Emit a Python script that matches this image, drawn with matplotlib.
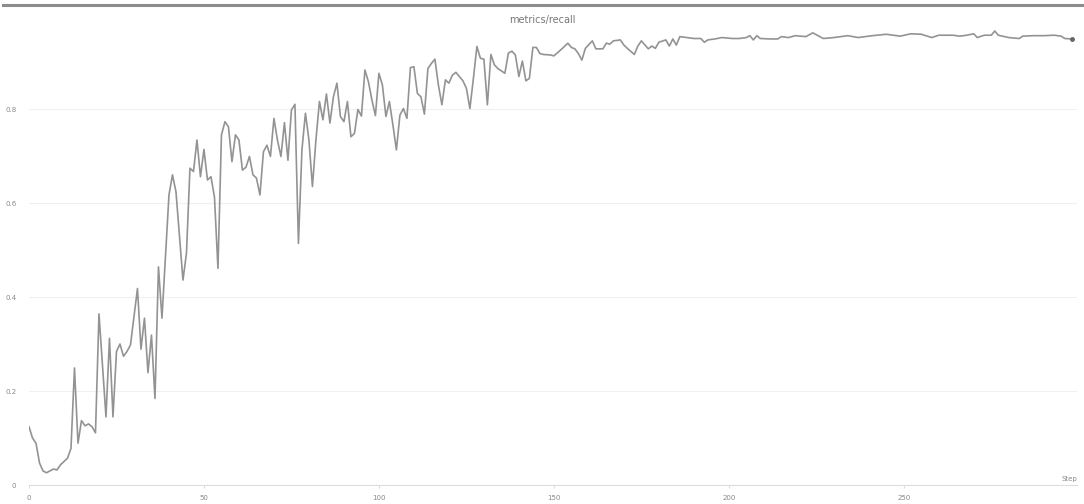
import matplotlib
matplotlib.use("Agg")
import matplotlib.pyplot as plt
from matplotlib.lines import Line2D

# values (step, recall)
steps = [0, 1, 2, 3, 4, 5, 7, 8, 9, 11, 12, 13, 14, 15, 16, 17, 18, 19, 20,
         22, 23, 24, 25, 26, 27, 28, 29, 31, 32, 33, 34, 35, 36, 37, 38, 40,
         41, 42, 44, 45, 46, 47, 48, 49, 50, 51, 52, 53, 54, 55, 56, 57, 58,
         59, 60, 61, 62, 63, 64, 65, 66, 67, 68, 69, 70, 71, 72, 73, 74, 75,
         76, 77, 78, 79, 80, 81, 82, 83, 84, 85, 86, 87, 88, 89, 90, 91, 92,
         93, 94, 95, 96, 97, 98, 99, 100, 101, 102, 103, 104, 105, 106, 107,
         108, 109, 110, 111, 112, 113, 114, 115, 116, 117, 118, 119, 120, 121,
         122, 123, 124, 125, 126, 127, 128, 129, 130, 131, 132, 133, 134, 135,
         136, 137, 138, 139, 140, 141, 142, 143, 144, 145, 146, 147, 149, 150,
         152, 154, 155, 156, 157, 158, 159, 161, 162, 164, 165, 166, 167, 169,
         170, 171, 173, 174, 175, 177, 178, 179, 180, 182, 183, 184, 185, 186,
         188, 190, 192, 193, 194, 196, 198, 201, 203, 205, 206, 207, 208, 209,
         212, 214, 215, 217, 219, 222, 224, 227, 230, 234, 237, 241, 245, 249,
         252, 255, 258, 260, 264, 266, 268, 270, 271, 273, 275, 276, 277, 280,
         283, 284, 287, 290, 293, 295, 296, 298]
recall = [0.124, 0.100, 0.089, 0.047, 0.030, 0.026, 0.034, 0.032, 0.043,
          0.057, 0.078, 0.249, 0.089, 0.137, 0.126, 0.130, 0.124, 0.111,
          0.364, 0.145, 0.312, 0.145, 0.284, 0.300, 0.274, 0.284, 0.298,
          0.418, 0.289, 0.355, 0.239, 0.319, 0.184, 0.464, 0.355, 0.617,
          0.660, 0.624, 0.436, 0.493, 0.674, 0.667, 0.734, 0.656, 0.714,
          0.649, 0.656, 0.613, 0.461, 0.745, 0.773, 0.762, 0.688, 0.745,
          0.734, 0.670, 0.676, 0.699, 0.660, 0.653, 0.617, 0.709, 0.723,
          0.699, 0.780, 0.734, 0.699, 0.771, 0.691, 0.798, 0.810, 0.514,
          0.713, 0.791, 0.734, 0.635, 0.734, 0.816, 0.777, 0.832, 0.770,
          0.826, 0.855, 0.784, 0.773, 0.816, 0.741, 0.748, 0.799, 0.785,
          0.883, 0.858, 0.819, 0.786, 0.876, 0.851, 0.784, 0.816, 0.766,
          0.713, 0.787, 0.801, 0.780, 0.888, 0.890, 0.833, 0.826, 0.789,
          0.886, 0.897, 0.906, 0.851, 0.809, 0.862, 0.855, 0.872, 0.878,
          0.869, 0.860, 0.844, 0.801, 0.865, 0.933, 0.908, 0.906, 0.809,
          0.916, 0.894, 0.886, 0.881, 0.876, 0.919, 0.923, 0.915, 0.869,
          0.902, 0.860, 0.865, 0.931, 0.931, 0.918, 0.916, 0.915, 0.913,
          0.926, 0.940, 0.931, 0.928, 0.918, 0.904, 0.929, 0.945, 0.928,
          0.928, 0.940, 0.938, 0.945, 0.947, 0.936, 0.929, 0.916, 0.934,
          0.945, 0.928, 0.934, 0.929, 0.942, 0.947, 0.934, 0.949, 0.936,
          0.954, 0.952, 0.950, 0.950, 0.942, 0.947, 0.949, 0.952, 0.950,
          0.950, 0.952, 0.956, 0.947, 0.956, 0.950, 0.949, 0.949, 0.954,
          0.952, 0.956, 0.954, 0.962, 0.950, 0.952, 0.956, 0.952, 0.956,
          0.959, 0.955, 0.960, 0.959, 0.952, 0.957, 0.957, 0.955, 0.957,
          0.960, 0.952, 0.957, 0.957, 0.966, 0.957, 0.952, 0.950, 0.955,
          0.956, 0.956, 0.957, 0.955, 0.950, 0.949]

x_ticks = [0, 50, 100, 150, 200, 250]
y_ticks = [0, 0.2, 0.4, 0.6, 0.8]
y_labels = ["0", "0.2", "0.4", "0.6", "0.8"]

fig = plt.figure(figsize=(10.84, 5.04), dpi=100)
ax = fig.add_axes([29 / 1084, 19 / 504, 1048 / 1084, 470 / 504])

ax.plot(steps, recall, color="#939393", lw=1.2)
ax.plot(steps[-1], recall[-1], "o", color="#666666", ms=2.5)

ax.set_xlim(0, 299.5)
ax.set_ylim(0, 1.0)
ax.set_xticks(x_ticks)
ax.set_yticks(y_ticks)
ax.set_yticklabels(y_labels)
ax.tick_params(axis="x", length=2, color="#dddddd", labelsize=5,
               labelcolor="#888888", pad=5)
ax.tick_params(axis="y", length=0, labelsize=5, labelcolor="#888888", pad=9)
ax.grid(axis="y", color="#f0f0f0", lw=0.8)
for s in ["top", "right", "left"]:
    ax.spines[s].set_visible(False)
ax.spines["bottom"].set_color("#dddddd")

ax.text(1.0, 0.006, "Step", transform=ax.transAxes, ha="right", va="bottom",
        fontsize=5, color="#888888")

fig.text(0.5, 1 - 20 / 504, "metrics/recall", ha="center", va="center",
         fontsize=7, color="#777777")
# gray bar across the top edge
fig.add_artist(Line2D([3 / 1084, 1], [1 - 5 / 504, 1 - 5 / 504],
                      transform=fig.transFigure, color="#8c8c8c", lw=2.2))

plt.savefig("out.png", dpi=100)
